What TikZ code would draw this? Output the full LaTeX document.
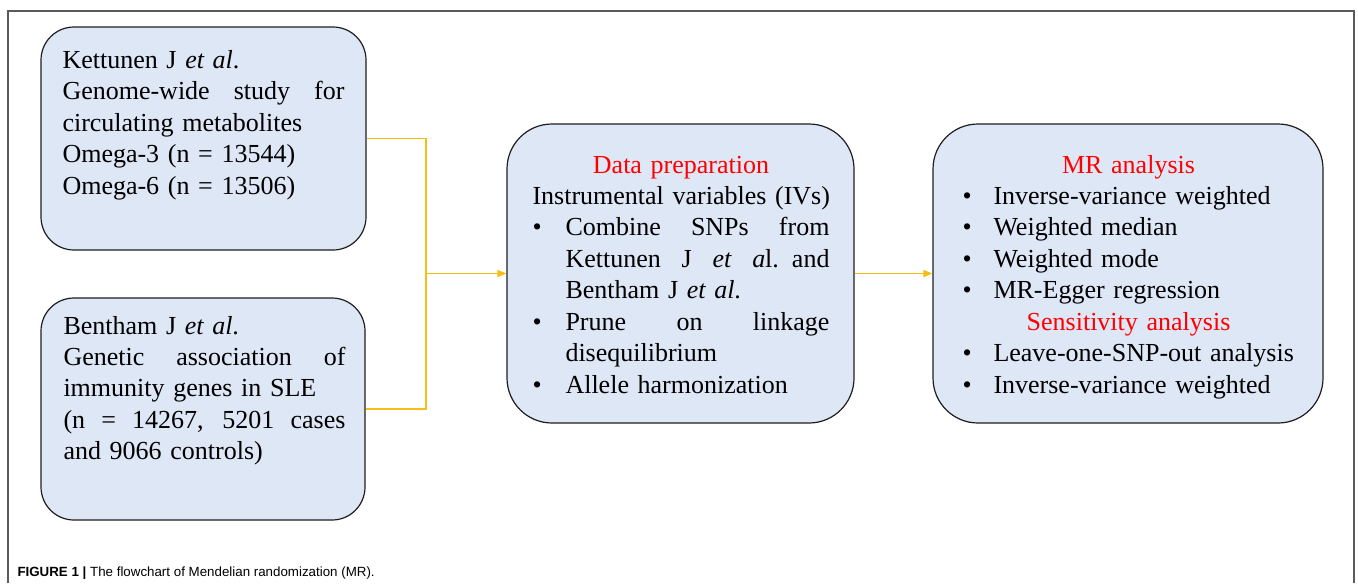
\documentclass[tikz,border=0pt]{standalone}
\usepackage{fontspec}
\setmainfont{Liberation Serif}
\newfontfamily\capfont{Liberation Sans}
\usetikzlibrary{arrows.meta}

\newlength\bulind
\newlength\bulwid
\newcommand{\spread}[2]{\makebox[#1][s]{\spaceskip=0.25em plus 1fil\relax #2}}
\newcommand{\bitem}[1]{\makebox[\bulind][l]{\textbullet}#1}
\newcommand{\bspread}[1]{\makebox[\bulind][l]{\textbullet}\spread{\bulwid}{#1}}
\newcommand{\bcont}[1]{\hspace*{\bulind}#1}
\newcommand{\cspread}[1]{\hspace*{\bulind}\spread{\bulwid}{#1}}
\newcommand{\redhead}[2]{\makebox[#1][c]{\color{red}#2}}

\tikzset{every picture/.style={line width=0.75pt}}
\tikzset{
  stepbox/.style={draw={rgb, 255:red, 30; green, 30; blue, 30 }, line width=0.9pt,
    fill={rgb, 255:red, 222; green, 231; blue, 245 }, rectangle, inner sep=0pt},
  boxtext/.style={anchor=base west, inner sep=0pt, align=left, text width=270pt,
    font=\fontsize{19.5}{23.6}\selectfont},
  link/.style={draw={rgb, 255:red, 245; green, 190; blue, 20 }, line width=1.2pt},
  head/.style={-{Triangle[length=6.75pt,width=5.25pt]}}
}

\begin{document}
\begin{tikzpicture}[x=0.75pt,y=0.75pt,yscale=-1,xscale=1]
	\useasboundingbox (0,0) rectangle (1358,583);

	%Straight Lines: frame
	\draw [draw={rgb, 255:red, 90; green, 90; blue, 90 }, line width=0.8pt] (8,583) -- (8,11) -- (1354,11) -- (1354,583) ;

	%Shape: Rounded Rectangle
	\node [stepbox, rounded corners=24.75pt, minimum width=243.75pt, minimum height=167.25pt] (kett) at (203.5,138.5) {};
	%Shape: Rounded Rectangle
	\node [stepbox, rounded corners=24.75pt, minimum width=243pt, minimum height=166.5pt] (bent) at (203,409) {};
	%Shape: Rounded Rectangle
	\node [stepbox, rounded corners=33.75pt, minimum width=260.25pt, minimum height=224.25pt] (prep) at (680.5,273.5) {};
	%Shape: Rounded Rectangle
	\node [stepbox, rounded corners=33.75pt, minimum width=292.5pt, minimum height=224.25pt] (mr) at (1128,273.5) {};

	%Connectors
	\coordinate (join) at (426,273.5);
	\draw [link] (kett.east) -| (join) ;
	\draw [link] (bent.east) -| (join) ;
	\draw [link, head] (join) -- (prep.west) ;
	\draw [link, head] (prep.east) -- (mr.west) ;

	% Text Node
	\node [boxtext] (kettT) at (62,68.3) {%
	Kettunen J \textit{et al}.\\
	\spread{211.5pt}{Genome-wide study for}\\
	circulating metabolites\\
	Omega-3 (n = 13544)\\
	Omega-6 (n = 13506)};
	% Text Node
	\node [boxtext] (bentT) at (63,334) {%
	Bentham J \textit{et al}.\\
	\spread{211.5pt}{Genetic association of}\\
	immunity genes in SLE\\
	\spread{211.5pt}{(n = 14267, 5201 cases}\\
	and 9066 controls)};
	% Text Node
	\node [boxtext] (prepT) at (532,173) {\setlength\bulind{24.75pt}\setlength\bulwid{198pt}%
	\redhead{222.75pt}{Data preparation}\\
	Instrumental variables (IVs)\\
	\bspread{Combine SNPs from}\\
	\cspread{Kettunen J \textit{et a}l. and}\\
	\bcont{Bentham J \textit{et al}.}\\
	\bspread{Prune on linkage}\\
	\bcont{disequilibrium}\\
	\bitem{Allele harmonization}};
	% Text Node
	\node [boxtext] (mrT) at (962,173) {\setlength\bulind{23.25pt}%
	\redhead{249pt}{MR analysis}\\
	\bitem{Inverse-variance weighted}\\
	\bitem{Weighted median}\\
	\bitem{Weighted mode}\\
	\bitem{MR-Egger regression}\\
	\redhead{249pt}{Sensitivity analysis}\\
	\bitem{Leave-one-SNP-out analysis}\\
	\bitem{Inverse-variance weighted}};

	% Text Node: caption
	\node [anchor=base west, inner sep=0pt, font=\capfont\fontsize{10}{12}\selectfont] (cap) at (17,576) {\textbf{FIGURE 1 |} The flowchart of Mendelian randomization (MR).};

\end{tikzpicture}
\end{document}
